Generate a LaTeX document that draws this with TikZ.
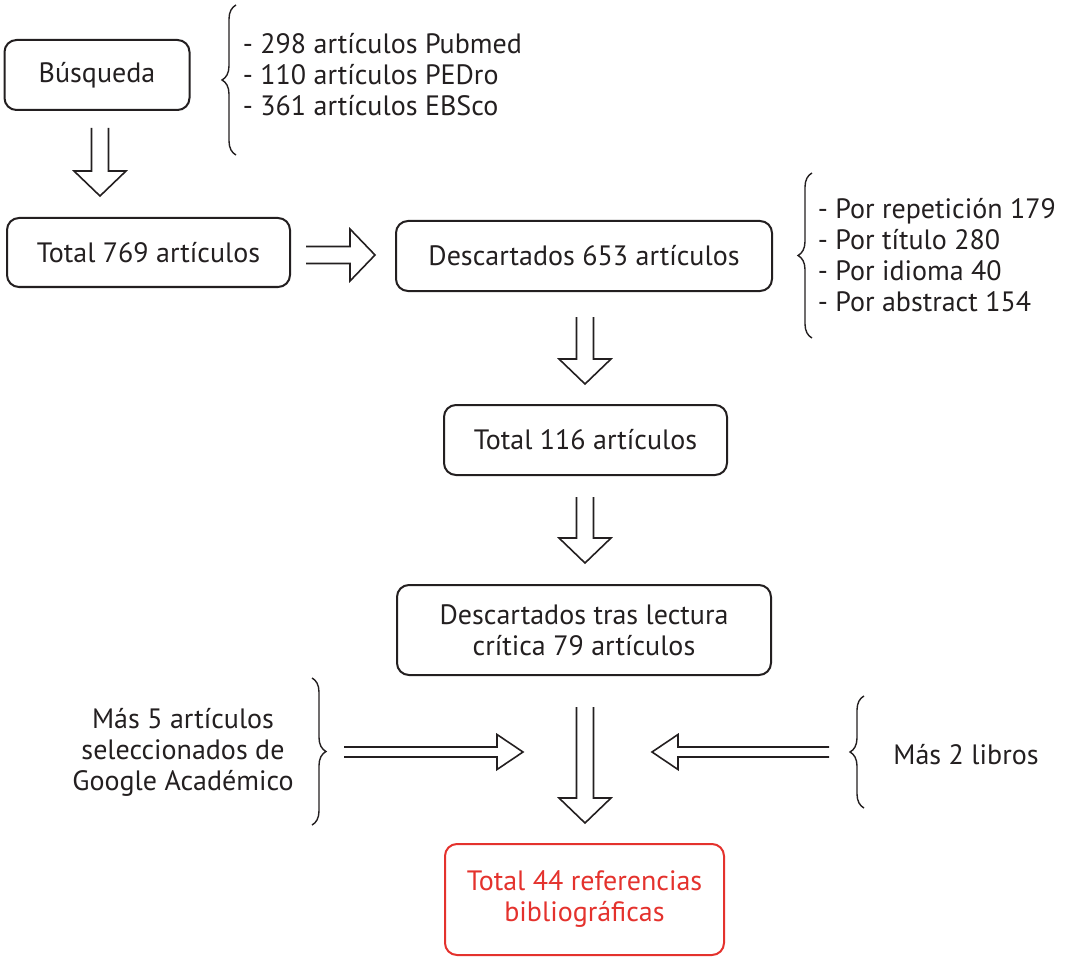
\documentclass[tikz,border=0pt]{standalone}
\usepackage{fontspec}
\setmainfont{PT Sans}
\usetikzlibrary{positioning,calc,decorations.pathreplacing}
\definecolor{tinta}{RGB}{35,31,32}
\definecolor{rojo}{RGB}{228,50,45}
\tikzset{every picture/.style={line width=0.8pt}}

\begin{document}
\begin{tikzpicture}[x=0.5pt, y=-0.5pt, color=tinta, font=\fontsize{14}{15.5}\selectfont,
    caja/.style={draw, rectangle, rounded corners=6pt, line width=1pt, align=center, inner sep=0pt},
    llave/.style={decorate, decoration={brace, amplitude=7pt}, line width=0.7pt},
    hueca/.style n args={3}{line width=0.8pt, to path={
        ($(\tikztotarget)!#3!(\tikztostart)$) coordinate (hb)
        ($(\tikztostart)!#1!90:(\tikztotarget)$) -- ($(hb)!#1!90:(\tikztotarget)$)
        -- ($(hb)!#2!90:(\tikztotarget)$) -- (\tikztotarget)
        -- ($(hb)!#2!-90:(\tikztotarget)$) -- ($(hb)!#1!-90:(\tikztotarget)$)
        -- ($(\tikztostart)!#1!-90:(\tikztotarget)$)}},
    grande/.style={hueca={4.25pt}{13pt}{12.5pt}},
    fina/.style={hueca={2.5pt}{8.75pt}{13pt}}]
    \useasboundingbox (0,0) rectangle (1065,957);

    % Search boxes
    \node[caja, minimum width=92.5pt, minimum height=35pt] (B) at (97,75) {Búsqueda};
    \node[caja, minimum width=141.5pt, minimum height=34.5pt] (T1) at (148.5,252.5) {Total 769 artículos};
    \node[caja, minimum width=188pt, minimum height=35pt] (D1) at (584,256) {Descartados 653 artículos};
    \node[caja, minimum width=141.5pt, minimum height=35pt] (T2) at (585.5,440) {Total 116 artículos};
    \node[caja, minimum width=187pt, minimum height=45pt] (D2) at (584,630) {Descartados tras lectura\\crítica 79 artículos};
    \node[caja, draw=rojo, text=rojo, minimum width=139.5pt, minimum height=55.5pt] (T3) at (584.5,899.5) {Total 44 referencias\\bibliográficas};

    % Lists next to the braces
    \node[anchor=west, align=left, inner sep=0pt] (L1) at (242,75) {- 298 artículos Pubmed\\- 110 artículos PEDro\\- 361 artículos EBSco};
    \node[anchor=west, align=left, inner sep=0pt] (L2) at (817,255) {- Por repetición 179\\- Por título 280\\- Por idioma 40\\- Por abstract 154};
    \node[align=center, inner sep=0pt] (M1) at (183,752) {Más 5 artículos\\seleccionados de\\Google Académico};
    \node[inner sep=0pt] (M2) at (966,755) {Más 2 libros};

    % Braces
    \draw[llave] (236,155) -- (236,5);
    \draw[llave] (812,338) -- (812,173);
    \draw[llave] (312,678) -- (312,825);
    \draw[llave] (864,808) -- (864,696);

    % Arrow ends
    \coordinate (a1) at (100,128);  \coordinate (b1) at (100,196);
    \coordinate (a2) at (306,255);  \coordinate (b2) at (375,255);
    \coordinate (a3) at (585,317);  \coordinate (b3) at (585,384);
    \coordinate (a4) at (585,497);  \coordinate (b4) at (585,563);
    \coordinate (a5) at (585,707);  \coordinate (b5) at (585,823);
    \coordinate (a6) at (344,752);  \coordinate (b6) at (523,752);
    \coordinate (a7) at (829,752);  \coordinate (b7) at (652,752);

    % Hollow arrows
    \draw[grande] (a1) to (b1);
    \draw[grande] (a2) to (b2);
    \draw[grande] (a3) to (b3);
    \draw[grande] (a4) to (b4);
    \draw[grande] (a5) to (b5);
    \draw[fina] (a6) to (b6);
    \draw[fina] (a7) to (b7);
\end{tikzpicture}
\end{document}
